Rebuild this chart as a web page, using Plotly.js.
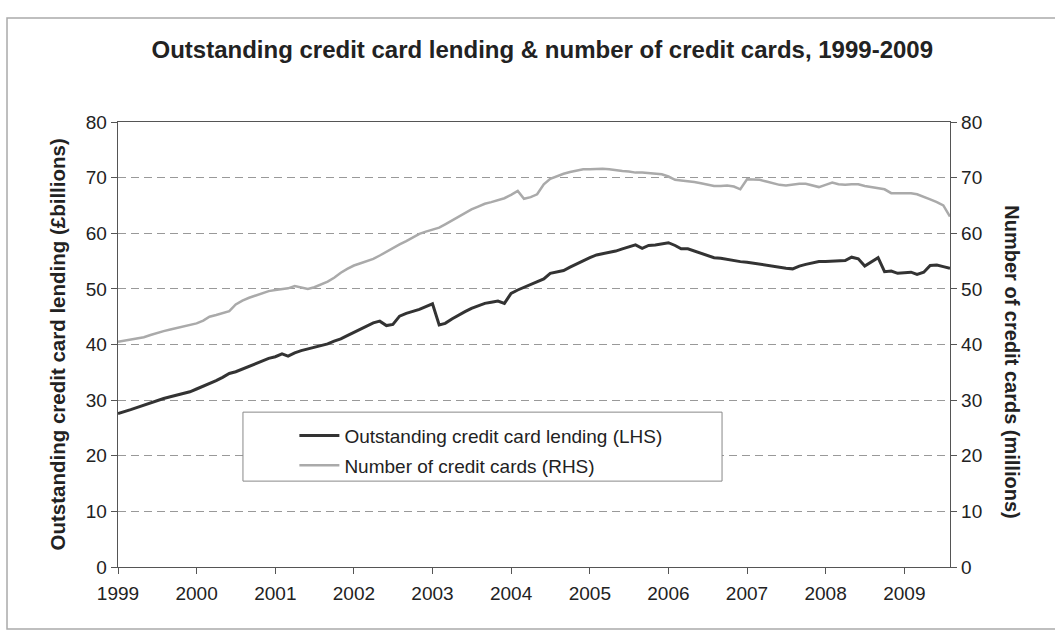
<!DOCTYPE html>
<html>
<head>
<meta charset="utf-8">
<script src="https://cdn.plot.ly/plotly-3.0.1.min.js"></script>
<style>
  html, body { margin: 0; padding: 0; background: #ffffff; }
  #chart { width: 1055px; height: 631px; }
</style>
</head>
<body>
<div id="chart"></div>
<script>
// ---- Data (monthly, Jan 1999 - Aug 2009) ----
var startYear = 1999;
var yearTicks = ['1999','2000','2001','2002','2003','2004','2005','2006','2007','2008','2009'];

// Outstanding credit card lending, £ billions (LHS)
var lending1999 = [27.6, 27.9, 28.3, 28.7, 29.1, 29.5, 30.0, 30.3, 30.6, 30.9, 31.2, 31.5];
var lending2000 = [32.0, 32.5, 33.1, 33.5, 34.1, 34.8, 35.1, 35.6, 36.1, 36.6, 37.1, 37.5];
var lending2001 = [37.8, 38.3, 37.9, 38.5, 38.9, 39.2, 39.5, 39.8, 40.1, 40.6, 41.0, 41.6];
var lending2002 = [42.2, 42.8, 43.4, 43.9, 44.2, 43.4, 43.6, 45.1, 45.6, 45.9, 46.3, 46.8];
var lending2003 = [47.3, 43.5, 43.8, 44.6, 45.3, 45.9, 46.5, 47.0, 47.4, 47.6, 47.8, 47.4];
var lending2004 = [49.2, 49.8, 50.3, 50.8, 51.3, 51.8, 52.8, 53.0, 53.3, 53.9, 54.5, 55.0];
var lending2005 = [55.6, 56.1, 56.3, 56.6, 56.8, 57.2, 57.5, 57.9, 57.3, 57.8, 57.9, 58.1];
var lending2006 = [58.3, 57.8, 57.2, 57.2, 56.8, 56.3, 55.9, 55.6, 55.5, 55.3, 55.0, 54.9];
var lending2007 = [54.8, 54.6, 54.4, 54.2, 54.0, 53.9, 53.7, 53.6, 54.1, 54.4, 54.7, 54.9];
var lending2008 = [54.9, 55.0, 55.0, 55.1, 55.7, 55.4, 54.1, 54.9, 55.6, 53.1, 53.2, 52.8];
var lending2009 = [52.9, 53.0, 52.6, 53.0, 54.2, 54.3, 54.0, 53.7];

// Number of credit cards, millions (RHS)
var cards1999 = [40.5, 40.7, 40.9, 41.1, 41.3, 41.7, 42.1, 42.4, 42.7, 43.0, 43.3, 43.5];
var cards2000 = [43.8, 44.3, 45.0, 45.3, 45.7, 46.0, 47.2, 47.9, 48.4, 48.8, 49.2, 49.6];
var cards2001 = [49.8, 50.0, 50.1, 50.5, 50.3, 50.0, 50.3, 50.8, 51.3, 52.0, 52.9, 53.6];
var cards2002 = [54.2, 54.6, 55.0, 55.4, 56.0, 56.7, 57.4, 58.0, 58.6, 59.2, 59.9, 60.3];
var cards2003 = [60.7, 61.0, 61.6, 62.3, 62.9, 63.6, 64.3, 64.8, 65.3, 65.6, 65.9, 66.3];
var cards2004 = [66.9, 67.6, 66.2, 66.5, 67.0, 68.8, 69.8, 70.3, 70.7, 71.0, 71.3, 71.5];
var cards2005 = [71.5, 71.6, 71.6, 71.5, 71.3, 71.2, 71.1, 70.9, 70.9, 70.8, 70.7, 70.6];
var cards2006 = [70.2, 69.6, 69.5, 69.4, 69.2, 69.0, 68.8, 68.5, 68.5, 68.6, 68.4, 67.9];
var cards2007 = [69.7, 69.7, 69.6, 69.3, 69.0, 68.7, 68.6, 68.8, 68.9, 68.9, 68.6, 68.3];
var cards2008 = [68.7, 69.1, 68.8, 68.7, 68.8, 68.8, 68.5, 68.3, 68.2, 67.9, 67.2, 67.2];
var cards2009 = [67.3, 67.2, 67.0, 66.6, 66.1, 65.6, 65.0, 63.0];

var lending = [].concat(lending1999, lending2000, lending2001, lending2002, lending2003,
  lending2004, lending2005, lending2006, lending2007, lending2008, lending2009);
var cards = [].concat(cards1999, cards2000, cards2001, cards2002, cards2003,
  cards2004, cards2005, cards2006, cards2007, cards2008, cards2009);

// month categories (first of each month)
var months = [];
for (var i = 0; i < lending.length; i++) {
  var y = startYear + Math.floor(i / 12);
  var m = (i % 12) + 1;
  months.push(y + '-' + (m < 10 ? '0' + m : m) + '-01');
}

var FONT = 'Arial, "Liberation Sans", Helvetica, sans-serif';
var AXIS = '#555555';

var traces = [
  {
    x: months, y: lending, type: 'scatter', mode: 'lines',
    name: 'Outstanding credit card lending (LHS)',
    line: { color: '#333333', width: 3 },
    legendgroup: 'a', yaxis: 'y'
  },
  {
    x: months, y: cards, type: 'scatter', mode: 'lines',
    name: 'Number of credit cards (RHS)',
    line: { color: '#aaaaaa', width: 2.5 },
    legendgroup: 'b', yaxis: 'y2'
  }
];

var layout = {
  width: 1055, height: 631,
  margin: { l: 118, r: 105, t: 122, b: 64, pad: 0 },
  paper_bgcolor: '#ffffff', plot_bgcolor: '#ffffff',
  font: { family: FONT, size: 19, color: '#222222' },
  showlegend: true,
  title: {
    text: 'Outstanding credit card lending & number of credit cards, 1999-2009',
    font: { family: FONT, size: 24, color: '#222222', weight: 'bold' },
    x: 0.514, xref: 'container', xanchor: 'center',
    y: 0.922, yref: 'container', yanchor: 'middle'
  },
  xaxis: {
    type: 'date',
    range: ['1999-01-01', '2009-08-01'],
    tickmode: 'array',
    tickvals: yearTicks.map(function (t) { return t + '-01-01'; }),
    ticktext: yearTicks,
    ticks: 'outside', ticklen: 6, tickcolor: AXIS, tickwidth: 1,
    ticklabelstandoff: 3,
    showline: true, linecolor: AXIS, linewidth: 1.3, mirror: true,
    showgrid: false, zeroline: false,
    tickfont: { family: FONT, size: 19, color: '#222222' }
  },
  yaxis: {
    range: [0, 80], dtick: 10, tick0: 0,
    ticks: 'outside', ticklen: 6, tickcolor: AXIS, tickwidth: 1,
    showline: true, linecolor: AXIS, linewidth: 1.3,
    showgrid: true, gridcolor: '#999999', gridwidth: 1, griddash: '8px,5px',
    zeroline: false,
    tickfont: { family: FONT, size: 19, color: '#222222' }
  },
  yaxis2: {
    overlaying: 'y', side: 'right',
    range: [0, 80], dtick: 10, tick0: 0,
    ticks: 'outside', ticklen: 6, tickcolor: AXIS, tickwidth: 1,
    showline: true, linecolor: AXIS, linewidth: 1.3,
    showgrid: false, zeroline: false,
    tickfont: { family: FONT, size: 19, color: '#222222' }
  },
  legend: {
    x: 0.212, xanchor: 'left', xref: 'paper',
    y: 0.338, yanchor: 'top', yref: 'paper',
    bgcolor: 'rgba(0,0,0,0)', borderwidth: 0,
    traceorder: 'grouped', tracegroupgap: 2,
    itemwidth: 40,
    font: { family: FONT, size: 19, color: '#222222' }
  },
  annotations: [
    {
      text: 'Outstanding credit card lending (£billions)',
      xref: 'paper', yref: 'paper', x: -0.0733, y: 0.5,
      xanchor: 'center', yanchor: 'middle', textangle: -90, showarrow: false,
      font: { family: FONT, size: 20.5, color: '#222222', weight: 'bold' }
    },
    {
      text: 'Number of credit cards (millions)',
      xref: 'paper', yref: 'paper', x: 1.0745, y: 0.46,
      xanchor: 'center', yanchor: 'middle', textangle: 90, showarrow: false,
      font: { family: FONT, size: 20, color: '#222222', weight: 'bold' }
    }
  ],
  shapes: [
    { // legend box
      type: 'rect', xref: 'paper', yref: 'paper', layer: 'above',
      x0: 0.1502, x1: 0.726, y0: 0.193, y1: 0.348,
      line: { color: '#888888', width: 1 }, fillcolor: '#ffffff'
    },
    { // outer chart frame
      type: 'rect', xref: 'paper', yref: 'paper', layer: 'below',
      x0: -0.1334, x1: 1.14, y0: -0.1393, y1: 1.2337,
      line: { color: '#aaaaaa', width: 1.5 }, fillcolor: 'rgba(0,0,0,0)'
    }
  ]
};

Plotly.newPlot('chart', traces, layout, { displayModeBar: false, staticPlot: true });
</script>
</body>
</html>
